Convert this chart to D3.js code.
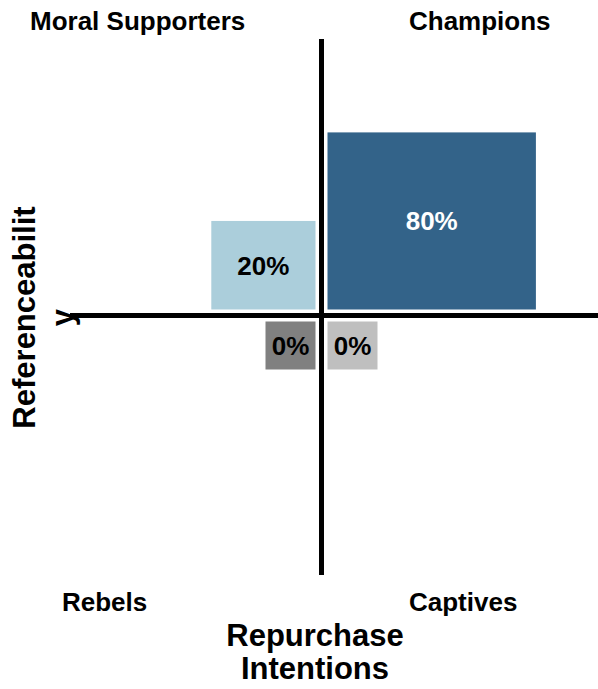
<!DOCTYPE html>
<html>
<head>
<meta charset="utf-8">
<script src="https://cdn.jsdelivr.net/npm/d3@7"></script>
<style>
  body { margin: 0; background: #fff; }
  svg { display: block; font-family: "Liberation Sans", Arial, sans-serif; font-weight: bold; }
</style>
</head>
<body>
<script>
// quadrant data
let quadrants = ["Champions", "Moral Supporters", "Rebels", "Captives"];
let shares = [80, 20, 0, 0];
let xSide = [1, -1, -1, 1];   // right / left of the vertical axis
let ySide = [1, 1, -1, -1];   // above / below the horizontal axis
let fills = ["#336389", "#abcedb", "#808080", "#bfbfbf"];
let labelFills = ["#fff", "#000", "#000", "#000"];

let xTitle = ["Repurchase", "Intentions"];
let yTitle = ["Referenceabilit", "y"];

const width = 598;
const height = 689;

const svg = d3.select("body")
    .append("svg")
    .attr("width", width)
    .attr("height", height);

// axes cross point and extents
const x = d3.scaleLinear().domain([-1, 1]).range([70, 573]);   // 0 -> 321.5
const y = d3.scaleLinear().domain([-1, 1]).range([575, 56]);   // 0 -> 315.5
const gap = 6;

// box size grows with sqrt of the share, with a small minimum so 0% still shows
const w = d3.scaleSqrt().domain([0, 100]).range([0, 233]);
const h = d3.scaleSqrt().domain([0, 100]).range([0, 198]);
const boxW = v => Math.max(50, w(v));
const boxH = v => Math.max(48, h(v));

const data = quadrants.map((q, i) => ({
    name: q, value: shares[i], sx: xSide[i], sy: ySide[i],
    fill: fills[i], text: labelFills[i]
}));

const boxes = svg.append("g")
    .selectAll("g")
    .data(data)
    .enter()
    .append("g")
    .attr("transform", d => {
        let bx = d.sx > 0 ? x(0) + gap : x(0) - gap - boxW(d.value);
        let by = d.sy > 0 ? y(0) - gap - boxH(d.value) : y(0) + gap;
        return `translate(${bx},${by})`;
    });

boxes.append("rect")
    .attr("width", d => boxW(d.value))
    .attr("height", d => boxH(d.value))
    .attr("fill", d => d.fill);

boxes.append("text")
    .attr("x", d => boxW(d.value) / 2)
    .attr("y", d => boxH(d.value) / 2)
    .attr("dy", "0.36em")
    .attr("text-anchor", "middle")
    .attr("font-size", 26)
    .attr("fill", d => d.text)
    .text(d => d.value + "%");

// y title, rotated, wraps onto two lines
const yt = svg.append("text")
    .attr("transform", `translate(0,${y(0) + 2}) rotate(-90)`)
    .attr("text-anchor", "middle")
    .attr("font-size", 31)
    .attr("fill", "#000");
yTitle.forEach((t, i) => {
    yt.append("tspan").attr("x", 0).attr("y", 35 + i * 38).text(t);
});

// crosshair
svg.append("line")
    .attr("x1", x(0)).attr("x2", x(0))
    .attr("y1", 39).attr("y2", y(-1))
    .attr("stroke", "#000").attr("stroke-width", 5);
svg.append("line")
    .attr("x1", x(-1)).attr("x2", width)
    .attr("y1", y(0)).attr("y2", y(0))
    .attr("stroke", "#000").attr("stroke-width", 5);

// quadrant names
const corner = [
    { t: "Moral Supporters", x: 30, y: 30 },
    { t: "Champions", x: 409, y: 30 },
    { t: "Rebels", x: 62, y: 611 },
    { t: "Captives", x: 409, y: 611 }
];
svg.append("g")
    .selectAll("text")
    .data(corner)
    .enter()
    .append("text")
    .attr("x", d => d.x)
    .attr("y", d => d.y)
    .attr("font-size", 26)
    .attr("fill", "#000")
    .text(d => d.t);

// x title
const xt = svg.append("text")
    .attr("text-anchor", "middle")
    .attr("font-size", 31)
    .attr("fill", "#000");
xTitle.forEach((t, i) => {
    xt.append("tspan").attr("x", 315).attr("y", 646 + i * 33).text(t);
});
</script>
</body>
</html>
